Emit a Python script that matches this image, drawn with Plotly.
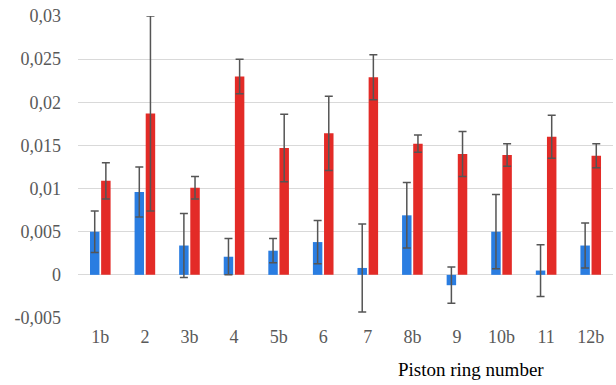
import plotly.graph_objects as go

categories = ["1b", "2", "3b", "4", "5b", "6", "7", "8b", "9", "10b", "11", "12b"]
blue_values = [0.0050, 0.0096, 0.0034, 0.0021, 0.0028, 0.0038, 0.0008, 0.0069, -0.0012, 0.0050, 0.0005, 0.0034]
blue_errors = [0.0024, 0.0029, 0.0037, 0.0021, 0.0014, 0.0025, 0.0051, 0.0038, 0.0021, 0.0043, 0.0030, 0.0026]
red_values = [0.0109, 0.0187, 0.0101, 0.0230, 0.0147, 0.0164, 0.0229, 0.0152, 0.0140, 0.0139, 0.0160, 0.0138]
red_errors = [0.0021, 0.0113, 0.0013, 0.0020, 0.0039, 0.0043, 0.0026, 0.0010, 0.0026, 0.0013, 0.0025, 0.0014]
y_tickvals = [-0.005, 0, 0.005, 0.01, 0.015, 0.02, 0.025, 0.03]
y_ticktext = ["-0,005", "0", "0,005", "0,01", "0,015", "0,02", "0,025", "0,03"]
x_title = "Piston ring number"

FONT = "Liberation Serif, Times New Roman, serif"
err_style = dict(type="data", visible=True, color="#555555", thickness=1.5, width=4)

fig = go.Figure()
fig.add_trace(go.Bar(
    x=categories, y=blue_values, marker=dict(color="#2a7de1", line=dict(width=0)),
    error_y=dict(array=blue_errors, **err_style), showlegend=False,
))
fig.add_trace(go.Bar(
    x=categories, y=red_values, marker=dict(color="#e32b27", line=dict(width=0)),
    error_y=dict(array=red_errors, **err_style), showlegend=False,
))

fig.update_layout(
    width=616, height=385,
    margin=dict(l=78, r=3, t=16, b=67),
    paper_bgcolor="white", plot_bgcolor="white",
    barmode="group", bargap=0.5, bargroupgap=0.15,
    font=dict(family=FONT, size=18, color="#595959"),
    xaxis=dict(showgrid=False, showline=False, ticks="", ticklabelstandoff=6,
               tickfont=dict(family=FONT, size=18, color="#595959")),
    yaxis=dict(range=[-0.005, 0.03], tickvals=y_tickvals, ticktext=y_ticktext,
               showgrid=True, gridcolor="#d9d9d9", gridwidth=1,
               zeroline=True, zerolinecolor="#d9d9d9", zerolinewidth=1,
               showline=False, ticks="", ticklabelstandoff=16,
               tickfont=dict(family=FONT, size=18, color="#595959")),
    annotations=[dict(text=x_title, xref="paper", yref="paper", x=0.734, y=-0.172,
                      xanchor="center", yanchor="middle", showarrow=False,
                      font=dict(family=FONT, size=19, color="#000000"))],
)

fig.write_html("out.html")
